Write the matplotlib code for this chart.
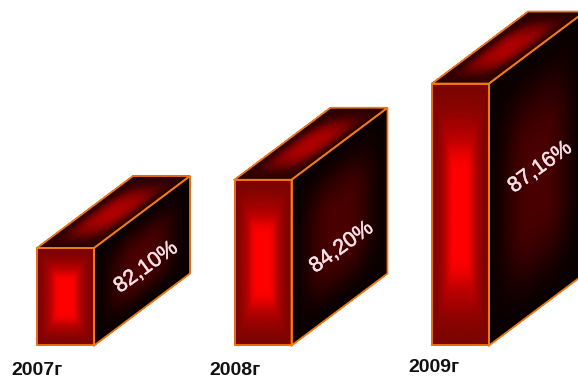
import numpy as np
import matplotlib
matplotlib.use("Agg")
import matplotlib.pyplot as plt
import matplotlib.patheffects as pe
from matplotlib.colors import LinearSegmentedColormap

# Values shown on the boxes
years = ["2007г", "2008г", "2009г"]
shares = [82.10, 84.20, 87.16]
share_labels = ["82,10%", "84,20%", "87,16%"]

# Value scale: the box height starts at this share
BASELINE = 79.1
PX_PER_UNIT = 32.5
PX_PER_SLOT = 197.5
W, H = 578, 382
LEFT_PX, BASE_PX = 37, 345.5
FRONT_W = 57 / PX_PER_SLOT
DEPTH_X = 96 / PX_PER_SLOT
DEPTH_Y = 72 / PX_PER_UNIT
EDGE = "#f57a12"

front_cmap = LinearSegmentedColormap.from_list(
    "front", [(0, "#7c0400"), (0.4, "#a00200"), (0.7, "#c00000"), (1, "#ff0000")])
top_cmap = LinearSegmentedColormap.from_list(
    "top", [(0, "#2c0000"), (0.5, "#780000"), (1, "#ac0000")])
side_cmap = LinearSegmentedColormap.from_list(
    "side", [(0, "#0a0000"), (0.5, "#2c0000"), (1, "#480000")])

fig = plt.figure(figsize=(W / 100, H / 100), dpi=100, facecolor="white")
ax = fig.add_axes([0, 0, 1, 1])
ax.set_xlim(-LEFT_PX / PX_PER_SLOT, (W - LEFT_PX) / PX_PER_SLOT)
ax.set_ylim(BASELINE - (H - BASE_PX) / PX_PER_UNIT, BASELINE + BASE_PX / PX_PER_UNIT)
ax.axis("off")


def smooth(t):
    t = np.clip(t, 0, 1)
    return t * t * (3 - 2 * t)


def glow(u, v, ru, rv, blend):
    """Brightness that rises from the rim of a face to its middle."""
    du = smooth(np.minimum(u, 1 - u) / ru)
    dv = smooth(np.minimum(v, 1 - v) / rv)
    return blend * np.minimum(du, dv) + (1 - blend) * du * dv


def shade_face(origin, e1, e2, cmap, ru, rv, blend=0.0):
    u, v = np.meshgrid(np.linspace(0, 1, 120), np.linspace(0, 1, 120))
    X = origin[0] + u * e1[0] + v * e2[0]
    Y = origin[1] + u * e1[1] + v * e2[1]
    ax.pcolormesh(X, Y, glow(u, v, ru, rv, blend), cmap=cmap, vmin=0, vmax=1,
                  shading="gouraud", zorder=2)
    ax.plot([origin[0], origin[0] + e1[0], origin[0] + e1[0] + e2[0],
             origin[0] + e2[0], origin[0]],
            [origin[1], origin[1] + e1[1], origin[1] + e1[1] + e2[1],
             origin[1] + e2[1], origin[1]],
            color=EDGE, lw=1.25, solid_joinstyle="miter", zorder=3)


# Offsets of the labels, in pixels from the lower-left front corner of each box
share_offset = [(109, 78), (107, 98), (108, 178)]
year_offset = [(-26, -25), (-25, -25), (-24, -22)]

for i, (year, value, label) in enumerate(zip(years, shares, share_labels)):
    height = value - BASELINE
    shade_face((i, BASELINE), (0, height), (FRONT_W, 0), front_cmap, 0.34, 0.40, 0.7)
    shade_face((i + FRONT_W, BASELINE), (0, height), (DEPTH_X, DEPTH_Y), side_cmap, 0.38, 0.42)
    shade_face((i, value), (FRONT_W, 0), (DEPTH_X, DEPTH_Y), top_cmap, 0.42, 0.45)

    ox, oy = share_offset[i]
    ax.annotate(label, (i, BASELINE), xytext=(ox * 0.72, oy * 0.72),
                textcoords="offset points", ha="center", va="center", rotation=36,
                rotation_mode="anchor", color="#f6dfe6", fontsize=15.5,
                family="Liberation Sans", zorder=5,
                path_effects=[pe.withStroke(linewidth=0.35, foreground="#f6dfe6")])
    ox, oy = year_offset[i]
    ax.annotate(year, (i, BASELINE), xytext=(ox * 0.72, oy * 0.72),
                textcoords="offset points", ha="left", va="center", color="#111111",
                fontsize=14, fontweight="bold", family="Liberation Sans", zorder=5)

fig.savefig("out.png", dpi=100, facecolor="white")
